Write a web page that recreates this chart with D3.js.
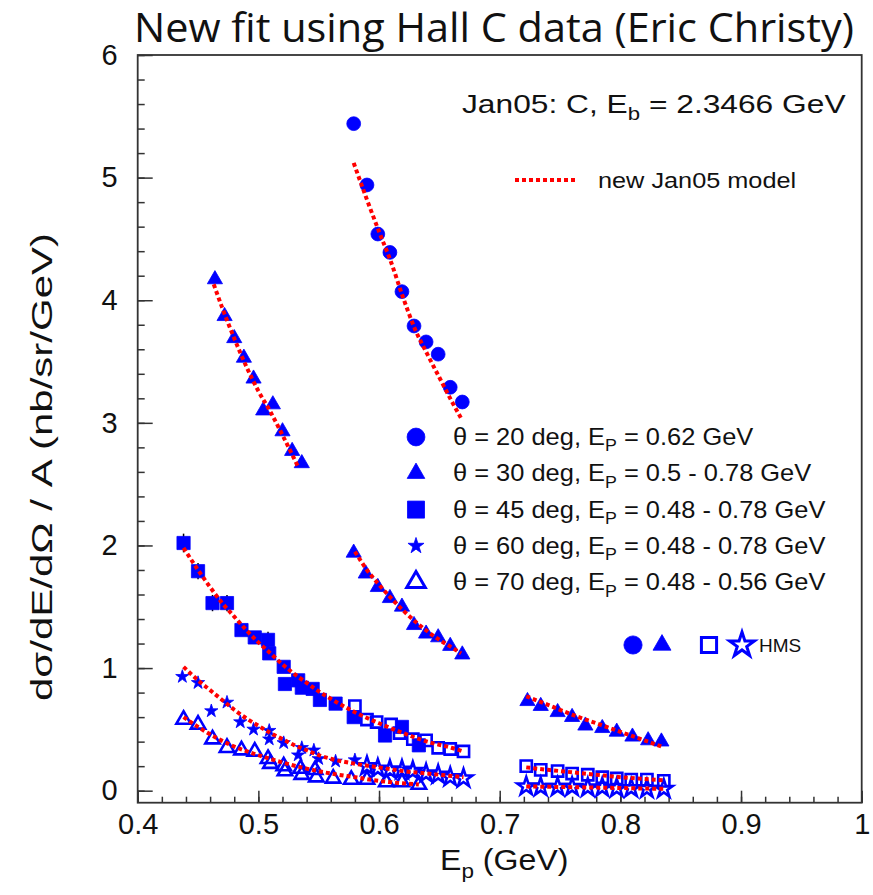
<!DOCTYPE html>
<html>
<head>
<meta charset="utf-8">
<script src="https://cdn.jsdelivr.net/npm/d3@7"></script>
<style>
  body { margin: 0; background: #fff; }
  svg text { font-family: "Liberation Sans", Arial, sans-serif; fill: #111; }
</style>
</head>
<body>
<div id="chart"></div>
<script>
// data (E_p in GeV, cross section in nb/sr/GeV)
var th20E = [0.579, 0.590, 0.599, 0.609, 0.619, 0.629, 0.639, 0.649, 0.659, 0.669]
var th20V = [5.44, 4.94, 4.54, 4.39, 4.07, 3.79, 3.66, 3.56, 3.29, 3.17]

var th30E = [0.464, 0.472, 0.480, 0.488, 0.496, 0.504, 0.512, 0.520, 0.528, 0.536,
             0.579, 0.589, 0.599, 0.609, 0.619, 0.629, 0.639, 0.649, 0.659, 0.669,
             0.723, 0.734, 0.748, 0.760, 0.771, 0.785, 0.797, 0.810, 0.823, 0.834]
var th30V = [4.17, 3.87, 3.69, 3.53, 3.36, 3.10, 3.15, 2.93, 2.77, 2.67,
             1.94, 1.77, 1.66, 1.57, 1.50, 1.35, 1.28, 1.25, 1.18, 1.11,
             0.73, 0.69, 0.64, 0.60, 0.53, 0.51, 0.48, 0.44, 0.41, 0.40]

var th45E = [0.438, 0.450, 0.462, 0.474, 0.486, 0.497, 0.508, 0.509, 0.521, 0.522,
             0.533, 0.536, 0.545, 0.551, 0.564, 0.579, 0.605, 0.619, 0.633]
var th45V = [2.02, 1.79, 1.53, 1.53, 1.31, 1.25, 1.23, 1.12, 1.01, 0.87,
             0.90, 0.84, 0.83, 0.74, 0.71, 0.60, 0.45, 0.52, 0.37]
var th45Err = [0.06, 0.05, 0.05, 0.05, 0.03, 0.03, 0.05, 0.03, 0.03, 0.02,
               0.02, 0.02, 0.02, 0.02, 0.02, 0.02, 0.02, 0.02, 0.02]
var hms45E = [0.580, 0.590, 0.598, 0.610, 0.617, 0.628, 0.639, 0.649, 0.659, 0.670,
              0.722, 0.734, 0.748, 0.760, 0.773, 0.785, 0.797, 0.809, 0.822, 0.836]
var hms45V = [0.69, 0.58, 0.56, 0.54, 0.47, 0.42, 0.41, 0.35, 0.34, 0.32,
              0.20, 0.17, 0.16, 0.14, 0.13, 0.11, 0.10, 0.09, 0.09, 0.08]

var th60E = [0.437, 0.450, 0.461, 0.474, 0.485, 0.496, 0.509, 0.509, 0.521, 0.536,
             0.533, 0.546, 0.550, 0.564, 0.580]
var th60V = [0.93, 0.88, 0.65, 0.72, 0.56, 0.50, 0.49, 0.42, 0.39, 0.35,
             0.29, 0.33, 0.26, 0.24, 0.25]
var hms60E = [0.590, 0.599, 0.609, 0.619, 0.628, 0.639, 0.649, 0.659, 0.670,
              0.722, 0.734, 0.748, 0.760, 0.773, 0.785, 0.797, 0.809, 0.822, 0.836]
var hms60V = [0.20, 0.18, 0.17, 0.17, 0.16, 0.14, 0.13, 0.11, 0.10,
              0.035, 0.03, 0.03, 0.03, 0.025, 0.025, 0.02, 0.02, 0.015, 0.015]

var th70E = [0.438, 0.450, 0.462, 0.474, 0.486, 0.497, 0.508, 0.510, 0.521, 0.522,
             0.535, 0.536, 0.547, 0.548, 0.562, 0.577, 0.590, 0.606, 0.619, 0.633]
var th70V = [0.58, 0.54, 0.42, 0.35, 0.33, 0.32, 0.26, 0.22, 0.20, 0.16,
             0.18, 0.13, 0.17, 0.11, 0.10, 0.09, 0.09, 0.07, 0.07, 0.05]

// model curves (new Jan05 model)
var m20E = [0.579, 0.59, 0.60, 0.61, 0.62, 0.63, 0.64, 0.65, 0.66, 0.669]
var m20V = [5.12, 4.82, 4.56, 4.31, 4.02, 3.76, 3.56, 3.37, 3.18, 3.02]
var m30aE = [0.463, 0.47, 0.48, 0.49, 0.50, 0.51, 0.52, 0.533]
var m30aV = [4.13, 3.94, 3.69, 3.46, 3.26, 3.09, 2.90, 2.64]
var m30bE = [0.58, 0.59, 0.60, 0.61, 0.62, 0.63, 0.64, 0.65, 0.66, 0.668]
var m30bV = [1.95, 1.80, 1.68, 1.57, 1.47, 1.38, 1.30, 1.23, 1.17, 1.12]
var m30cE = [0.722, 0.74, 0.76, 0.78, 0.80, 0.82, 0.834]
var m30cV = [0.77, 0.70, 0.62, 0.55, 0.48, 0.41, 0.36]
var m45aE = [0.438, 0.45, 0.46, 0.47, 0.48, 0.49, 0.50, 0.51, 0.52, 0.53, 0.54, 0.55, 0.56, 0.58, 0.60, 0.62, 0.64, 0.66, 0.67]
var m45aV = [1.98, 1.80, 1.66, 1.53, 1.42, 1.31, 1.21, 1.12, 1.03, 0.95, 0.88, 0.81, 0.75, 0.64, 0.55, 0.47, 0.40, 0.35, 0.32]
var m45bE = [0.722, 0.74, 0.76, 0.78, 0.80, 0.82, 0.836]
var m45bV = [0.19, 0.17, 0.15, 0.13, 0.11, 0.095, 0.085]
var m60aE = [0.438, 0.45, 0.46, 0.47, 0.48, 0.49, 0.50, 0.51, 0.52, 0.53, 0.54, 0.55, 0.56, 0.58, 0.60, 0.62, 0.64, 0.67]
var m60aV = [1.01, 0.90, 0.82, 0.74, 0.66, 0.59, 0.53, 0.47, 0.42, 0.37, 0.33, 0.29, 0.26, 0.22, 0.19, 0.16, 0.14, 0.11]
var m60bE = [0.722, 0.78, 0.836]
var m60bV = [0.035, 0.025, 0.015]
var m70E = [0.438, 0.45, 0.46, 0.48, 0.50, 0.52, 0.54, 0.56, 0.58, 0.60, 0.633]
var m70V = [0.60, 0.52, 0.46, 0.36, 0.29, 0.23, 0.18, 0.14, 0.11, 0.08, 0.05]

var xTickLabels = ["0.4", "0.5", "0.6", "0.7", "0.8", "0.9", "1"]
var yTickLabels = ["0", "1", "2", "3", "4", "5", "6"]
var legendLabels = ["20", "30", "45", "60", "70"]
var legendRanges = ["0.62", "0.5 - 0.78", "0.48 - 0.78", "0.48 - 0.78", "0.48 - 0.56"]

var width = 873,
    height = 895

var blue = "#0000ff",
    red = "#ff0000"

var svg = d3.select("#chart")
  .append("svg")
    .attr("width", width)
    .attr("height", height)

var x = d3.scaleLinear().domain([0.4, 1]).range([137.7, 861.7])
var y = d3.scaleLinear().domain([-0.098, 6]).range([802.7, 55])

function zip(es, vs) {
  return es.map(function(e, i) { return {e: e, v: vs[i]} })
}

// text with a subscript; the source picture is a bit stretched sideways
function subText(tx, ty, sx, size, a, sub, b) {
  var t = svg.append("text")
    .attr("transform", "translate(" + tx + "," + ty + ") scale(" + sx + ",1)")
    .style("font-size", size + "px")
  t.append("tspan").text(a)
  t.append("tspan").attr("dy", size * 0.27).style("font-size", (size * 0.7) + "px").text(sub)
  t.append("tspan").attr("dy", -size * 0.27).text(b)
  return t
}

// title
svg.append("text")
  .attr("x", 134).attr("y", 42)
  .attr("textLength", 720).attr("lengthAdjust", "spacingAndGlyphs")
  .style("font-family", "'Open Sans', sans-serif")
  .style("font-size", "40px")
  .text("New fit using Hall C data (Eric Christy)")

// axes: inward ticks, ROOT style
var xMinor = d3.range(0.4, 1.0001, 0.02)
var xMajor = d3.range(0, 7).map(function(i) { return 0.4 + i * 0.1 })
var yMinor = d3.range(0, 6.0001, 0.2)
var yMajor = d3.range(0, 7)

var gx = svg.append("g").attr("transform", "translate(0,802.7)")
gx.call(d3.axisBottom(x).tickValues(xMinor).tickSize(-6).tickFormat(""))
gx.append("g").call(d3.axisBottom(x).tickValues(xMajor).tickSize(-12).tickPadding(11)
  .tickFormat(function(d, i) { return xTickLabels[i] }))
gx.selectAll(".domain").remove()
gx.selectAll("line").attr("stroke", "#333").attr("stroke-width", 1.5)
gx.selectAll("text").style("font-size", "29px").attr("fill", "#111")
  .style("font-family", "'Liberation Sans', Arial, sans-serif")

var gy = svg.append("g").attr("transform", "translate(137.7,0)")
gy.call(d3.axisLeft(y).tickValues(yMinor).tickSize(-7).tickFormat(""))
gy.append("g").call(d3.axisLeft(y).tickValues(yMajor).tickSize(-15).tickPadding(20)
  .tickFormat(function(d, i) { return yTickLabels[i] }))
gy.selectAll(".domain").remove()
gy.selectAll("line").attr("stroke", "#333").attr("stroke-width", 1.5)
gy.selectAll("text").style("font-size", "29px").attr("fill", "#111")
  .style("font-family", "'Liberation Sans', Arial, sans-serif")

svg.append("rect")
  .attr("x", x(0.4)).attr("y", y(6))
  .attr("width", x(1) - x(0.4)).attr("height", y(-0.098) - y(6))
  .attr("fill", "none").attr("stroke", "#333").attr("stroke-width", 1.8)

// axis titles
svg.append("text")
  .attr("transform", "translate(52,467) rotate(-90)")
  .attr("text-anchor", "middle")
  .attr("textLength", 468).attr("lengthAdjust", "spacingAndGlyphs")
  .style("font-size", "30px")
  .text("d\u03c3/dE/d\u03a9 / A (nb/sr/GeV)")

subText(440, 870, 1.07, 30, "E", "p", " (GeV)")

// symbols
var sym = {
  circle: d3.symbol().type(d3.symbolCircle),
  triangle: d3.symbol().type(d3.symbolTriangle),
  square: d3.symbol().type(d3.symbolSquare),
  star: d3.symbol().type(d3.symbolStar)
}

function drawPoints(data, type, size, filled) {
  svg.append("g").selectAll("path")
    .data(data)
    .enter()
    .append("path")
      .attr("transform", function(d) { return "translate(" + x(d.e) + "," + y(d.v) + ")" })
      .attr("d", sym[type].size(size)())
      .attr("fill", filled ? blue : "none")
      .attr("stroke", blue)
      .attr("stroke-width", filled ? 0.8 : 2.6)
      .attr("stroke-linejoin", "miter")
}

// error bars on the 45 deg points
svg.append("g").selectAll("line")
  .data(th45E.map(function(e, i) { return {e: e, v: th45V[i], err: th45Err[i]} }))
  .enter()
  .append("line")
    .attr("x1", function(d) { return x(d.e) }).attr("x2", function(d) { return x(d.e) })
    .attr("y1", function(d) { return y(d.v + d.err) - 2 }).attr("y2", function(d) { return y(d.v - d.err) + 2 })
    .attr("stroke", "#000").attr("stroke-width", 1.5)

drawPoints(zip(th70E, th70V), "triangle", 90, false)
drawPoints(zip(hms60E, hms60V), "star", 100, false)
drawPoints(zip(th60E, th60V), "star", 55, true)
drawPoints(zip(hms45E, hms45V), "square", 125, false)
drawPoints(zip(th45E, th45V), "square", 175, true)
drawPoints(zip(th30E, th30V), "triangle", 100, true)
drawPoints(zip(th20E, th20V), "circle", 150, true)

// model curves on top
var line = d3.line()
  .x(function(d) { return x(d.e) })
  .y(function(d) { return y(d.v) })
  .curve(d3.curveMonotoneX)

var models = [
  zip(m20E, m20V), zip(m30aE, m30aV), zip(m30bE, m30bV), zip(m30cE, m30cV),
  zip(m45aE, m45aV), zip(m45bE, m45bV), zip(m60aE, m60aV), zip(m60bE, m60bV),
  zip(m70E, m70V)
]
svg.append("g").selectAll("path")
  .data(models)
  .enter()
  .append("path")
    .attr("d", line)
    .attr("fill", "none")
    .attr("stroke", red)
    .attr("stroke-width", 4)
    .attr("stroke-dasharray", "4,3")

// annotations
subText(462, 113, 1.22, 26, "Jan05: C, E", "b", " = 2.3466 GeV")

svg.append("line")
  .attr("x1", 515).attr("x2", 576).attr("y1", 180).attr("y2", 180)
  .attr("stroke", red).attr("stroke-width", 4).attr("stroke-dasharray", "4,3")
svg.append("text")
  .attr("transform", "translate(598,188) scale(1.15,1)")
  .style("font-size", "22px")
  .text("new Jan05 model")

// legend
var legTypes = [["circle", 250, true], ["triangle", 135, true], ["square", 290, true],
                ["star", 80, true], ["triangle", 150, false]]
legendLabels.forEach(function(lab, i) {
  var cy = 437 + i * 36.3
  var t = legTypes[i]
  svg.append("path")
    .attr("transform", "translate(416," + cy + ")")
    .attr("d", sym[t[0]].size(t[1])())
    .attr("fill", t[2] ? blue : "none")
    .attr("stroke", blue)
    .attr("stroke-width", t[2] ? 0.8 : 3)
  subText(453, cy + 8, 1.06, 24, "\u03b8 = " + lab + " deg, E", "P", " = " + legendRanges[i] + " GeV")
})

// HMS row
var hmsRow = [["circle", 260, true, 633], ["triangle", 140, true, 662],
              ["square", 230, false, 709], ["star", 190, false, 742]]
hmsRow.forEach(function(h) {
  svg.append("path")
    .attr("transform", "translate(" + h[3] + ",645)")
    .attr("d", sym[h[0]].size(h[1])())
    .attr("fill", h[2] ? blue : "none")
    .attr("stroke", blue)
    .attr("stroke-width", h[2] ? 0.8 : 3)
})
svg.append("text")
  .attr("x", 759).attr("y", 652)
  .style("font-size", "19px")
  .text("HMS")
</script>
</body>
</html>
